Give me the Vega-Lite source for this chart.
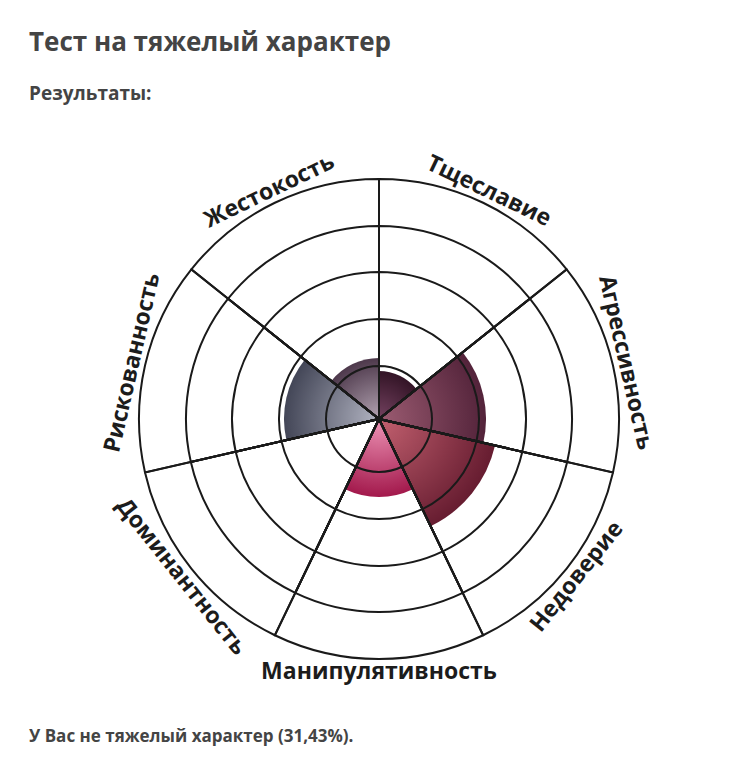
{
  "$schema": "https://vega.github.io/schema/vega-lite/v6.json",
  "background": "white",
  "padding": {"left": 29, "top": 30, "right": 0, "bottom": 8},
  "config": {"view": {"stroke": null}, "font": "Open Sans"},
  "title": {
    "text": "Тест на тяжелый характер",
    "subtitle": "Результаты:",
    "anchor": "start",
    "font": "Open Sans",
    "fontSize": 26,
    "fontWeight": "bold",
    "color": "#444444",
    "subtitleFont": "Open Sans",
    "subtitleFontSize": 19,
    "subtitleFontWeight": "bold",
    "subtitleColor": "#444444",
    "subtitlePadding": 29,
    "offset": 45
  },
  "datasets": {
    "scores": [
      {"i": 0, "name": "Тщеславие", "v": 48, "one": 1},
      {"i": 1, "name": "Агрессивность", "v": 107, "one": 1},
      {"i": 2, "name": "Недоверие", "v": 119, "one": 1},
      {"i": 3, "name": "Манипулятивность", "v": 78, "one": 1},
      {"i": 4, "name": "Доминантность", "v": 0, "one": 1},
      {"i": 5, "name": "Рискованность", "v": 95, "one": 1},
      {"i": 6, "name": "Жестокость", "v": 61, "one": 1}
    ]
  },
  "vconcat": [
    {
      "width": 700,
      "height": 540,
      "data": {"name": "scores"},
      "transform": [
        {"stack": "one", "groupby": [], "sort": [{"field": "i", "order": "ascending"}], "as": ["t0", "t1"]}
      ],
      "title": {
        "text": "У Вас не тяжелый характер (31,43%).",
        "orient": "bottom",
        "anchor": "start",
        "font": "Open Sans",
        "fontSize": 17,
        "fontWeight": "bold",
        "color": "#444444",
        "offset": 40
      },
      "layer": [
        {
          "transform": [{"filter": "datum.name === 'Тщеславие'"}],
          "mark": {"type": "arc", "fill": {"gradient": "radial", "x1": 0.11, "y1": 1, "r1": 0, "x2": 0.11, "y2": 1, "r2": 1.0, "stops": [{"offset": 0, "color": "#744260"}, {"offset": 1, "color": "#331426"}]}},
          "encoding": {
            "theta": {"field": "t0", "type": "quantitative", "scale": {"domain": [0, 7], "range": [0, 6.283185]}},
            "theta2": {"field": "t1"},
            "radius": {"field": "v", "type": "quantitative", "scale": {"type": "linear", "domain": [0, 240], "range": [0, 240], "zero": true}}
          }
        },
        {
          "transform": [{"filter": "datum.name === 'Агрессивность'"}],
          "mark": {"type": "arc", "fill": {"gradient": "radial", "x1": 0, "y1": 0.7, "r1": 0, "x2": 0, "y2": 0.7, "r2": 1.0, "stops": [{"offset": 0, "color": "#9c5c72"}, {"offset": 1, "color": "#53233a"}]}},
          "encoding": {
            "theta": {"field": "t0", "type": "quantitative"},
            "theta2": {"field": "t1"},
            "radius": {"field": "v", "type": "quantitative"}
          }
        },
        {
          "transform": [{"filter": "datum.name === 'Недоверие'"}],
          "mark": {"type": "arc", "fill": {"gradient": "radial", "x1": 0, "y1": 0.04, "r1": 0, "x2": 0, "y2": 0.04, "r2": 1.03, "stops": [{"offset": 0, "color": "#c2606f"}, {"offset": 1, "color": "#661c30"}]}},
          "encoding": {
            "theta": {"field": "t0", "type": "quantitative"},
            "theta2": {"field": "t1"},
            "radius": {"field": "v", "type": "quantitative"}
          }
        },
        {
          "transform": [{"filter": "datum.name === 'Манипулятивность'"}],
          "mark": {"type": "arc", "fill": {"gradient": "radial", "x1": 0.5, "y1": 0, "r1": 0, "x2": 0.5, "y2": 0, "r2": 1.0, "stops": [{"offset": 0, "color": "#ee95b7"}, {"offset": 1, "color": "#a3194c"}]}},
          "encoding": {
            "theta": {"field": "t0", "type": "quantitative"},
            "theta2": {"field": "t1"},
            "radius": {"field": "v", "type": "quantitative"}
          }
        },
        {
          "transform": [{"filter": "datum.name === 'Рискованность'"}],
          "mark": {"type": "arc", "fill": {"gradient": "radial", "x1": 1, "y1": 0.7, "r1": 0, "x2": 1, "y2": 0.7, "r2": 1.0, "stops": [{"offset": 0, "color": "#b2b4c2"}, {"offset": 1, "color": "#434657"}]}},
          "encoding": {
            "theta": {"field": "t0", "type": "quantitative"},
            "theta2": {"field": "t1"},
            "radius": {"field": "v", "type": "quantitative"}
          }
        },
        {
          "transform": [{"filter": "datum.name === 'Жестокость'"}],
          "mark": {"type": "arc", "fill": {"gradient": "radial", "x1": 0.89, "y1": 1, "r1": 0, "x2": 0.89, "y2": 1, "r2": 1.0, "stops": [{"offset": 0, "color": "#b3a4b2"}, {"offset": 1, "color": "#4d384b"}]}},
          "encoding": {
            "theta": {"field": "t0", "type": "quantitative"},
            "theta2": {"field": "t1"},
            "radius": {"field": "v", "type": "quantitative"}
          }
        },
        {
          "mark": {"type": "arc", "filled": false, "stroke": "#1a1a1a", "strokeWidth": 2},
          "encoding": {
            "theta": {"field": "t0", "type": "quantitative"},
            "theta2": {"field": "t1"},
            "radius": {"datum": 240, "type": "quantitative"}
          }
        },
        {
          "mark": {"type": "arc", "filled": false, "stroke": "#1a1a1a", "strokeWidth": 2},
          "encoding": {
            "theta": {"field": "t0", "type": "quantitative"},
            "theta2": {"field": "t1"},
            "radius": {"datum": 193, "type": "quantitative"}
          }
        },
        {
          "mark": {"type": "arc", "filled": false, "stroke": "#1a1a1a", "strokeWidth": 2},
          "encoding": {
            "theta": {"field": "t0", "type": "quantitative"},
            "theta2": {"field": "t1"},
            "radius": {"datum": 147, "type": "quantitative"}
          }
        },
        {
          "mark": {"type": "arc", "filled": false, "stroke": "#1a1a1a", "strokeWidth": 2},
          "encoding": {
            "theta": {"field": "t0", "type": "quantitative"},
            "theta2": {"field": "t1"},
            "radius": {"datum": 100, "type": "quantitative"}
          }
        },
        {
          "mark": {"type": "arc", "filled": false, "stroke": "#1a1a1a", "strokeWidth": 2},
          "encoding": {
            "theta": {"field": "t0", "type": "quantitative"},
            "theta2": {"field": "t1"},
            "radius": {"datum": 53, "type": "quantitative"}
          }
        },
        {
          "mark": {"type": "text", "radius": 253, "font": "Open Sans", "fontSize": 23, "fontWeight": "bold", "color": "#1c1c1c", "align": "center", "baseline": "middle"},
          "encoding": {
            "theta": {"field": "one", "type": "quantitative", "stack": true},
            "order": {"field": "i", "type": "quantitative"},
            "text": {"field": "name", "type": "nominal"},
            "angle": {
              "condition": [
                {"test": "datum.name === 'Тщеславие'", "value": 25.7},
                {"test": "datum.name === 'Агрессивность'", "value": 77.1},
                {"test": "datum.name === 'Недоверие'", "value": 308.6},
                {"test": "datum.name === 'Доминантность'", "value": 51.4},
                {"test": "datum.name === 'Рискованность'", "value": 282.9},
                {"test": "datum.name === 'Жестокость'", "value": 334.3}
              ],
              "value": 0
            }
          }
        }
      ]
    }
  ]
}
